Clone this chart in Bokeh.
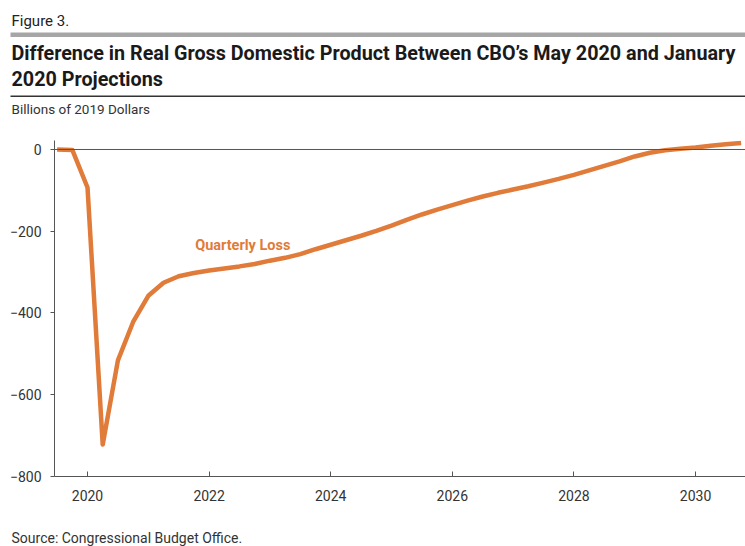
from bokeh.plotting import figure
from bokeh.layouts import column
from bokeh.models import Span, FixedTicker, Range1d
from bokeh.core.properties import value
from bokeh.embed import file_html
from bokeh.resources import INLINE

FONT = "Roboto"

# ---- data -------------------------------------------------------------
start_year = 2019
start_quarter = 3
gdp_loss = [
    0, -1,
    -93, -722, -516, -422,
    -358, -326, -310, -302,
    -296, -291, -286, -280,
    -272, -265, -256, -244,
    -233, -222, -211, -199,
    -186, -172, -159, -147,
    -136, -125, -115, -106,
    -98, -90, -81, -72,
    -62, -51, -40, -29,
    -17, -8, -2, 2,
    5, 9, 13, 16,
]
quarter_x = []
y_, q_ = start_year, start_quarter
for _ in gdp_loss:
    quarter_x.append(y_ + (q_ - 1) / 4)
    q_ += 1
    if q_ > 4:
        q_ = 1
        y_ += 1

x_ticks = [2020, 2022, 2024, 2026, 2028, 2030]
y_ticks = [0, -200, -400, -600, -800]
y_tick_labels = {0: "0", -200: "\u2212200", -400: "\u2212400", -600: "\u2212600", -800: "\u2212800"}

figure_label = "Figure 3."
title_lines = ["Difference in Real Gross Domestic Product Between CBO\u2019s May 2020 and January",
               "2020 Projections"]
unit_label = "Billions of 2019 Dollars"
series_label = "Quarterly Loss"
source_label = "Source: Congressional Budget Office."

ORANGE = "#E07B39"
AXIS = "#555555"
TEXT = "#333333"
W = 745


def blank(height):
    f = figure(width=W, height=height, output_backend="svg", toolbar_location=None,
               x_range=Range1d(0, W), y_range=Range1d(height, 0),
               x_axis_location=None, y_axis_location=None,
               min_border_left=0, min_border_right=0, min_border_top=0, min_border_bottom=0,
               frame_align=False)
    f.grid.visible = False
    f.outline_line_color = None
    return f


def txt(f, x, y, text, size, bold=False, color=TEXT):
    f.text(x=[x], y=[y], text=[text], text_font=value(FONT), text_font_size=size,
           text_font_style="bold" if bold else "normal", text_color=color,
           text_baseline="alphabetic", text_align="left")


# ---- header -----------------------------------------------------------
head = blank(132)
txt(head, 11, 20.5, figure_label, "15px", color="#222222")
head.quad(left=[10], right=[W], top=[32], bottom=[36.5], fill_color="#a6a6a6", line_color=None)
txt(head, 11, 52.5, title_lines[0], "19.75px", bold=True, color="#1a1a1a")
txt(head, 11, 78.5, title_lines[1], "19.75px", bold=True, color="#1a1a1a")
head.quad(left=[10], right=[W], top=[95], bottom=[96.4], fill_color="#333333", line_color=None)
txt(head, 11, 108.5, unit_label, "13.5px")

# ---- main chart -------------------------------------------------------
p = figure(width=W, height=388, output_backend="svg", toolbar_location=None,
           x_range=Range1d(2019.457, 2030.822), y_range=Range1d(-800, 22),
           min_border_left=54, min_border_right=0, min_border_top=8, min_border_bottom=44,
           frame_align=False)
p.outline_line_color = None
p.xgrid.visible = False
p.ygrid.visible = False

p.line(quarter_x, gdp_loss, line_color=ORANGE, line_width=4.5, line_join="round")
p.add_layout(Span(location=0, dimension="width", line_color=AXIS, line_width=1))

p.xaxis.ticker = FixedTicker(ticks=x_ticks)
p.xaxis.major_tick_in = 5
p.xaxis.major_tick_out = 0
p.xaxis.minor_tick_line_color = None
p.xaxis.axis_line_color = AXIS
p.xaxis.major_tick_line_color = AXIS
p.xaxis.major_label_text_font = FONT
p.xaxis.major_label_text_font_size = "14px"
p.xaxis.major_label_text_color = TEXT
p.xaxis.major_label_standoff = 13

p.yaxis.ticker = FixedTicker(ticks=y_ticks)
p.yaxis.major_label_overrides = y_tick_labels
p.yaxis.major_tick_in = 0
p.yaxis.major_tick_out = 4
p.yaxis.minor_tick_line_color = None
p.yaxis.axis_line_color = AXIS
p.yaxis.major_tick_line_color = AXIS
p.yaxis.major_label_text_font = FONT
p.yaxis.major_label_text_font_size = "14px"
p.yaxis.major_label_text_color = TEXT
p.yaxis.major_label_standoff = 9

p.text(x=[2021.77], y=[-234], text=[series_label], text_font=value(FONT),
       text_font_size="14.5px", text_font_style="bold", text_color=ORANGE,
       text_baseline="alphabetic")

# ---- footer -----------------------------------------------------------
foot = blank(26)
txt(foot, 11, 17, source_label, "14px")

layout = column(head, p, foot, spacing=0)
open("out.html", "w").write(file_html(layout, INLINE))
